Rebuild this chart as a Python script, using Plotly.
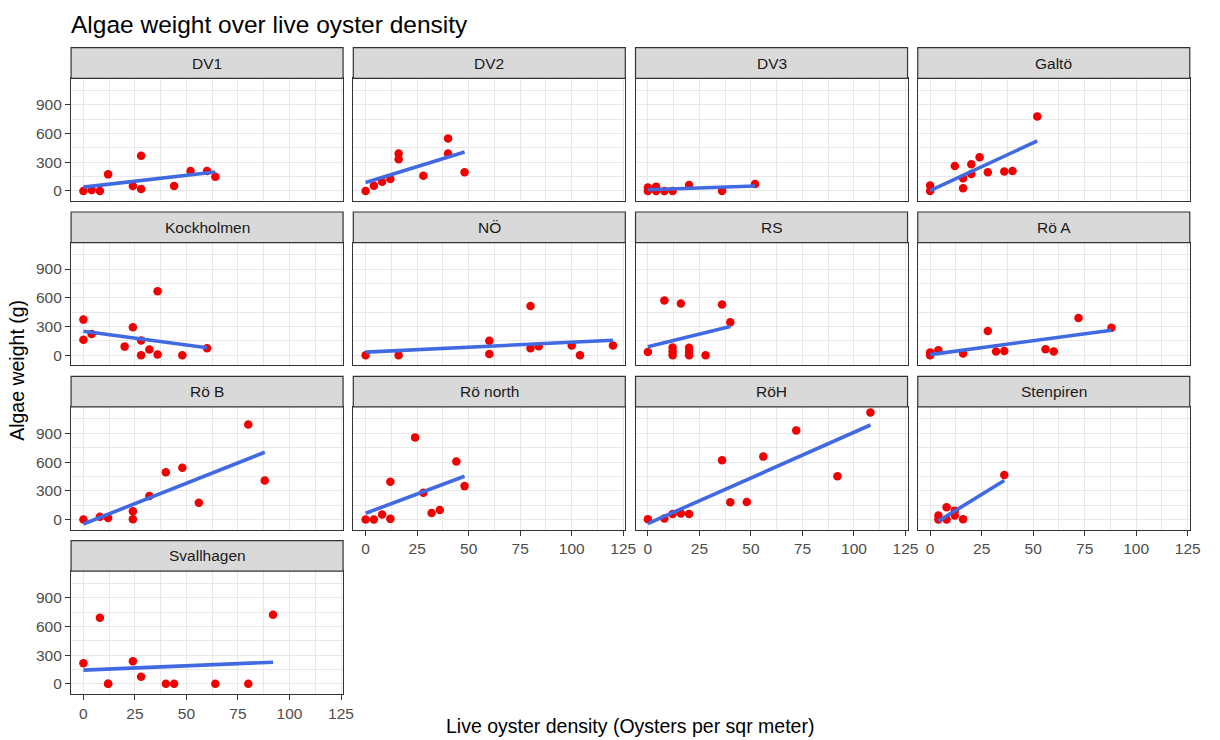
import numpy as np
import plotly.graph_objects as go

# ---------------- data ----------------
sites = ["DV1", "DV2", "DV3", "Galtö", "Kockholmen", "NÖ", "RS", "Rö A",
         "Rö B", "Rö north", "RöH", "Stenpiren", "Svallhagen"]

dv1_x = [0, 4, 8, 12, 24, 28, 28, 44, 52, 60, 64]
dv1_y = [0, 10, 0, 173, 52, 367, 21, 52, 208, 208, 149]
dv2_x = [0, 4, 8, 12, 16, 16, 28, 40, 40, 48]
dv2_y = [0, 55, 97, 125, 391, 332, 159, 547, 391, 194]
dv3_x = [0, 0, 4, 4, 8, 12, 20, 36, 52]
dv3_y = [35, 0, 45, 0, 0, 0, 62, 0, 72]
galto_x = [0, 0, 12, 16, 16, 20, 20, 24, 28, 36, 40, 52]
galto_y = [56, 0, 261, 132, 28, 279, 178, 352, 195, 202, 209, 777]
kock_x = [0, 0, 4, 20, 24, 28, 28, 32, 36, 36, 48, 60]
kock_y = [372, 162, 221, 90, 293, 155, 0, 59, 669, 7, 0, 72]
no_x = [0, 16, 60, 60, 80, 80, 84, 100, 104, 120]
no_y = [0, 0, 152, 14, 514, 72, 93, 103, 0, 103]
rs_x = [0, 8, 12, 12, 12, 16, 20, 20, 20, 28, 36, 40]
rs_y = [35, 572, 80, 38, 0, 541, 77, 35, 0, 0, 530, 345]
roa_x = [0, 0, 4, 16, 28, 32, 36, 56, 60, 72, 88]
roa_y = [28, 0, 52, 17, 252, 38, 45, 62, 38, 390, 286]
rob_x = [0, 8, 12, 24, 24, 32, 40, 48, 56, 80, 88]
rob_y = [0, 28, 17, 87, 3, 246, 495, 540, 176, 993, 408]
ron_x = [0, 4, 8, 12, 12, 24, 28, 32, 36, 44, 48]
ron_y = [0, 0, 52, 394, 7, 858, 280, 69, 100, 606, 349]
roh_x = [0, 8, 12, 16, 20, 36, 40, 48, 56, 72, 92, 108]
roh_y = [3, 10, 59, 62, 59, 619, 180, 183, 657, 931, 453, 1118]
sten_x = [4, 4, 8, 8, 12, 12, 16, 36]
sten_y = [41, 0, 128, 0, 93, 41, 3, 465]
svall_x = [0, 8, 12, 12, 24, 28, 40, 44, 64, 80, 92]
svall_y = [216, 691, 0, 0, 237, 73, 0, 0, 0, 0, 722]

x_ticks = [0, 25, 50, 75, 100, 125]
y_ticks = [0, 300, 600, 900]

title_text = "Algae weight over live oyster density"
x_title = "Live oyster density (Oysters per sqr meter)"
y_title = "Algae weight (g)"

series = [(dv1_x, dv1_y), (dv2_x, dv2_y), (dv3_x, dv3_y), (galto_x, galto_y),
          (kock_x, kock_y), (no_x, no_y), (rs_x, rs_y), (roa_x, roa_y),
          (rob_x, rob_y), (ron_x, ron_y), (roh_x, roh_y), (sten_x, sten_y),
          (svall_x, svall_y)]

# ---------------- layout geometry (pixels) ----------------
W, H = 1220, 740
col_left0, col_w, col_pitch = 71.7, 274.5, 284.8
row_top0, strip_h, panel_h, row_pitch = 47.7, 30.6, 122.7, 164.3

FONT = "Liberation Sans, Arial, sans-serif"
POINT_COL = "#F00000"
LINE_COL = "#4169E1"
GRID = "#E8E8E8"
BORDER = "#333333"
TICK_SIZE = 15.5

# linear fits (geom_smooth, method = lm)
fits = []
for xs, ys in series:
    xa, ya = np.array(xs, float), np.array(ys, float)
    slope, icpt = np.polyfit(xa, ya, 1)
    lx = np.array([xa.min(), xa.max()])
    fits.append((lx, icpt + slope * lx))

all_y = np.concatenate([np.array(s[1], float) for s in series] + [f[1] for f in fits])
ymin, ymax = all_y.min(), all_y.max()
pad = 0.05 * (ymax - ymin)
y_range = [ymin - pad, ymax + pad]
x_range = [-6, 126]

fig = go.Figure()
shapes, annotations = [], []

for i, site in enumerate(sites):
    r, c = divmod(i, 4)
    n = "" if i == 0 else str(i + 1)
    left = col_left0 + c * col_pitch
    right = left + col_w
    s_top = row_top0 + r * row_pitch
    p_top = s_top + strip_h
    p_bot = p_top + panel_h

    xs, ys = series[i]
    fig.add_trace(go.Scatter(x=xs, y=ys, mode="markers", xaxis="x" + n, yaxis="y" + n,
                             marker=dict(color=POINT_COL, size=8.5, line=dict(width=0)),
                             showlegend=False, hoverinfo="x+y"))
    lx, ly = fits[i]
    fig.add_trace(go.Scatter(x=lx, y=ly, mode="lines", xaxis="x" + n, yaxis="y" + n,
                             line=dict(color=LINE_COL, width=3.6),
                             showlegend=False, hoverinfo="skip"))

    show_x = (r == 3) or (r == 2 and c >= 1)
    show_y = (c == 0)
    xa = dict(domain=[left / W, right / W], range=x_range, anchor="y" + n,
              tickvals=x_ticks, ticktext=[str(v) for v in x_ticks],
              showticklabels=show_x, ticks="outside" if show_x else "",
              ticklen=5, tickwidth=1.2, tickcolor=BORDER,
              tickfont=dict(family=FONT, size=TICK_SIZE, color="#4D4D4D"),
              showgrid=True, gridcolor=GRID, gridwidth=1.4,
              minor=dict(tick0=12.5, dtick=25, showgrid=True, gridcolor=GRID, gridwidth=0.9, ticks=""),
              zeroline=False, showline=True, mirror=True, linecolor=BORDER, linewidth=1.2,
              fixedrange=True)
    ya = dict(domain=[1 - p_bot / H, 1 - p_top / H], range=y_range, anchor="x" + n,
              tickvals=y_ticks, ticktext=[str(v) for v in y_ticks],
              showticklabels=show_y, ticks="outside" if show_y else "",
              ticklen=5, tickwidth=1.2, tickcolor=BORDER,
              tickfont=dict(family=FONT, size=TICK_SIZE, color="#4D4D4D"),
              showgrid=True, gridcolor=GRID, gridwidth=1.4,
              minor=dict(tick0=150, dtick=300, showgrid=True, gridcolor=GRID, gridwidth=0.9, ticks=""),
              zeroline=False, showline=True, mirror=True, linecolor=BORDER, linewidth=1.2,
              fixedrange=True)
    fig.update_layout({"xaxis" + n: xa, "yaxis" + n: ya})

    shapes.append(dict(type="rect", xref="paper", yref="paper",
                       x0=left / W, x1=right / W, y0=1 - p_top / H, y1=1 - s_top / H,
                       fillcolor="#D9D9D9", line=dict(color=BORDER, width=1.2), layer="above"))
    annotations.append(dict(text=site, xref="paper", yref="paper",
                            x=(left + right) / 2 / W, y=1 - (s_top + strip_h / 2) / H,
                            xanchor="center", yanchor="middle", showarrow=False,
                            font=dict(family=FONT, size=15.5, color="#1A1A1A")))

annotations.append(dict(text=title_text, xref="paper", yref="paper",
                        x=70 / W, y=1 - 24 / H, xanchor="left", yanchor="middle",
                        showarrow=False, font=dict(family=FONT, size=24.5, color="#000000")))
annotations.append(dict(text=x_title, xref="paper", yref="paper",
                        x=636 / W, y=1 - 726 / H, xanchor="center", yanchor="middle",
                        showarrow=False, font=dict(family=FONT, size=19.5, color="#000000")))
annotations.append(dict(text=y_title, xref="paper", yref="paper",
                        x=17 / W, y=1 - 370 / H, xanchor="center", yanchor="middle",
                        textangle=-90, showarrow=False,
                        font=dict(family=FONT, size=19.5, color="#000000")))

fig.update_layout(width=W, height=H, margin=dict(l=0, r=0, t=0, b=0),
                  paper_bgcolor="white", plot_bgcolor="white",
                  shapes=shapes, annotations=annotations, showlegend=False,
                  font=dict(family=FONT))

fig.write_html("out.html")
